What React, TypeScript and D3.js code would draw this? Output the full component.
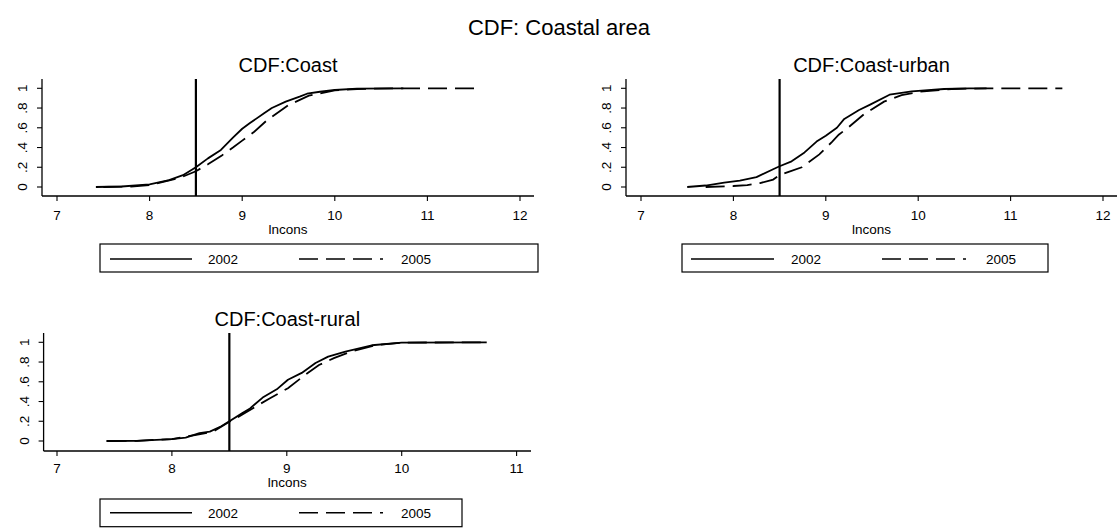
import React from 'react';
import * as d3 from 'd3';

type Pt = [number, number];

const mainTitle = 'CDF: Coastal area';
const panelTitles = ['CDF:Coast', 'CDF:Coast-urban', 'CDF:Coast-rural'];
const xAxisTitle = 'lncons';
const seriesNames = ['2002', '2005'];
const xTicksWide = [7, 8, 9, 10, 11, 12];
const xTicksNarrow = [7, 8, 9, 10, 11];
const yTicks = [0, 0.2, 0.4, 0.6, 0.8, 1];
const yTickLabels = ['0', '.2', '.4', '.6', '.8', '1'];
const cutoff = 8.5;

const coast2002: Pt[] = [[7.42,0],[7.7,0.005],[8.0,0.027],[8.21,0.07],[8.36,0.12],[8.5,0.2],[8.63,0.29],[8.77,0.375],[8.9,0.5],[9.0,0.59],[9.08,0.645],[9.24,0.75],[9.32,0.8],[9.47,0.865],[9.62,0.915],[9.7,0.945],[9.84,0.965],[10.0,0.983],[10.24,0.997],[10.74,1.0]];
const coast2005: Pt[] = [[7.5,0],[7.8,0.005],[8.0,0.02],[8.32,0.09],[8.5,0.16],[8.63,0.23],[8.78,0.32],[8.9,0.4],[9.0,0.47],[9.13,0.56],[9.26,0.67],[9.5,0.83],[9.72,0.925],[10.0,0.98],[10.24,0.993],[10.62,1.0],[11.56,1.0]];
const urban2002: Pt[] = [[7.5,0],[7.7,0.015],[7.9,0.045],[8.07,0.065],[8.25,0.1],[8.43,0.18],[8.5,0.21],[8.63,0.26],[8.77,0.35],[8.9,0.46],[9.0,0.52],[9.12,0.6],[9.2,0.69],[9.36,0.78],[9.48,0.835],[9.69,0.935],[9.93,0.968],[10.28,0.993],[10.55,1.0],[10.74,1.0]];
const urban2005: Pt[] = [[7.7,0],[8.0,0.01],[8.15,0.02],[8.29,0.04],[8.43,0.075],[8.5,0.12],[8.59,0.15],[8.74,0.2],[8.93,0.33],[9.07,0.46],[9.14,0.53],[9.24,0.6],[9.41,0.735],[9.63,0.865],[9.82,0.93],[10.01,0.965],[10.36,0.993],[10.74,1.0],[11.56,1.0]];
const rural2002: Pt[] = [[7.43,0],[7.69,0.002],[8.0,0.02],[8.12,0.034],[8.24,0.08],[8.33,0.095],[8.43,0.15],[8.5,0.2],[8.61,0.28],[8.68,0.33],[8.79,0.44],[8.92,0.53],[9.01,0.62],[9.13,0.69],[9.25,0.79],[9.36,0.855],[9.51,0.905],[9.74,0.97],[10.0,0.997],[10.74,1.0]];
const rural2005: Pt[] = [[7.44,0],[7.7,0.002],[8.0,0.02],[8.2,0.06],[8.36,0.095],[8.5,0.195],[8.61,0.265],[8.73,0.35],[8.85,0.43],[9.01,0.535],[9.16,0.67],[9.28,0.77],[9.41,0.84],[9.56,0.905],[9.77,0.97],[10.0,0.997],[10.74,1.0]];

const FONT = 'Liberation Sans, Arial, Helvetica, sans-serif';
const DASH = '19 8';
const TICK_FS = 13.5;

interface PanelCfg {
  title: string;
  s2002: Pt[];
  s2005: Pt[];
  xTicks: number[];
  xDom: [number, number];
  xRange: [number, number];
  axisLeft: number;
  axisRight: number;
  axisTop: number;
  axisBottom: number;
  yRange: [number, number];
  titleY: number;
  tickLabelY: number;
  xTitleY: number;
  legend: { x0: number; x1: number; y0: number; y1: number; solid: [number, number]; t1: number; dashed: [number, number]; t2: number; lineY: number; textY: number };
}

const panels: PanelCfg[] = [
  {
    title: panelTitles[0], s2002: coast2002, s2005: coast2005, xTicks: xTicksWide,
    xDom: [7, 12], xRange: [57, 520], axisLeft: 42, axisRight: 534, axisTop: 79, axisBottom: 196,
    yRange: [187, 88.3], titleY: 72, tickLabelY: 220, xTitleY: 234,
    legend: { x0: 100, x1: 538, y0: 244, y1: 272, solid: [110, 192], t1: 223, dashed: [299, 383], t2: 416, lineY: 259, textY: 264 },
  },
  {
    title: panelTitles[1], s2002: urban2002, s2005: urban2005, xTicks: xTicksWide,
    xDom: [7, 12], xRange: [641, 1103], axisLeft: 626, axisRight: 1117, axisTop: 79, axisBottom: 196,
    yRange: [187, 88.3], titleY: 72, tickLabelY: 220, xTitleY: 234,
    legend: { x0: 682, x1: 1048, y0: 244, y1: 272, solid: [691, 774], t1: 806, dashed: [882, 966], t2: 1001, lineY: 259, textY: 264 },
  },
  {
    title: panelTitles[2], s2002: rural2002, s2005: rural2005, xTicks: xTicksNarrow,
    xDom: [7, 11], xRange: [57, 516.6], axisLeft: 43.6, axisRight: 531, axisTop: 333, axisBottom: 451,
    yRange: [441, 342.3], titleY: 326, tickLabelY: 473, xTitleY: 487,
    legend: { x0: 100, x1: 462, y0: 499, y1: 526.7, solid: [110, 192], t1: 223, dashed: [299, 383], t2: 416, lineY: 512.7, textY: 517.5 },
  },
];

function Panel({ cfg }: { cfg: PanelCfg }) {
  const x = d3.scaleLinear().domain(cfg.xDom).range(cfg.xRange);
  const y = d3.scaleLinear().domain([0, 1]).range(cfg.yRange);
  const line = d3.line<Pt>().x(d => x(d[0])).y(d => y(d[1])).curve(d3.curveLinear);
  const cx = (cfg.axisLeft + cfg.axisRight) / 2;
  const L = cfg.legend;
  return (
    <g>
      <text x={cx} y={cfg.titleY} textAnchor="middle" fontSize={20} fontFamily={FONT} fill="#000">{cfg.title}</text>
      <path d={line(cfg.s2002) || ''} fill="none" stroke="#000" strokeWidth={1.8} strokeLinejoin="round" />
      <path d={line(cfg.s2005) || ''} fill="none" stroke="#000" strokeWidth={1.8} strokeDasharray={DASH} />
      <line x1={x(cutoff)} x2={x(cutoff)} y1={cfg.axisTop} y2={cfg.axisBottom} stroke="#000" strokeWidth={2.2} />
      <line x1={cfg.axisLeft} x2={cfg.axisLeft} y1={cfg.axisTop} y2={cfg.axisBottom} stroke="#000" strokeWidth={1.3} />
      <line x1={cfg.axisLeft} x2={cfg.axisRight} y1={cfg.axisBottom} y2={cfg.axisBottom} stroke="#000" strokeWidth={1.3} />
      {yTicks.map((t, i) => (
        <g key={'y' + i}>
          <line x1={cfg.axisLeft - 5} x2={cfg.axisLeft} y1={y(t)} y2={y(t)} stroke="#000" strokeWidth={1.1} />
          <text transform={`translate(${cfg.axisLeft - 15},${y(t)}) rotate(-90)`} textAnchor="middle" fontSize={TICK_FS} fontFamily={FONT} fill="#000">{yTickLabels[i]}</text>
        </g>
      ))}
      {cfg.xTicks.map(t => (
        <g key={'x' + t}>
          <line x1={x(t)} x2={x(t)} y1={cfg.axisBottom} y2={cfg.axisBottom + 5} stroke="#000" strokeWidth={1.1} />
          <text x={x(t)} y={cfg.tickLabelY} textAnchor="middle" fontSize={TICK_FS} fontFamily={FONT} fill="#000">{t}</text>
        </g>
      ))}
      <text x={cx} y={cfg.xTitleY} textAnchor="middle" fontSize={TICK_FS} fontFamily={FONT} fill="#000">{xAxisTitle}</text>
      <rect x={L.x0} y={L.y0} width={L.x1 - L.x0} height={L.y1 - L.y0} fill="none" stroke="#000" strokeWidth={1.2} />
      <line x1={L.solid[0]} x2={L.solid[1]} y1={L.lineY} y2={L.lineY} stroke="#000" strokeWidth={1.5} />
      <text x={L.t1} y={L.textY} textAnchor="middle" fontSize={TICK_FS} fontFamily={FONT} fill="#000">{seriesNames[0]}</text>
      <line x1={L.dashed[0]} x2={L.dashed[1]} y1={L.lineY} y2={L.lineY} stroke="#000" strokeWidth={1.5} strokeDasharray={DASH} />
      <text x={L.t2} y={L.textY} textAnchor="middle" fontSize={TICK_FS} fontFamily={FONT} fill="#000">{seriesNames[1]}</text>
    </g>
  );
}

export default function App() {
  return (
    <svg width={1118} height={529} style={{ position: 'absolute', left: 0, top: 0, background: '#fff' }}>
      <rect x={0} y={0} width={1118} height={529} fill="#fff" />
      <text x={559} y={35} textAnchor="middle" fontSize={22} fontFamily={FONT} fill="#000">{mainTitle}</text>
      {panels.map((p, i) => <Panel key={i} cfg={p} />)}
    </svg>
  );
}
